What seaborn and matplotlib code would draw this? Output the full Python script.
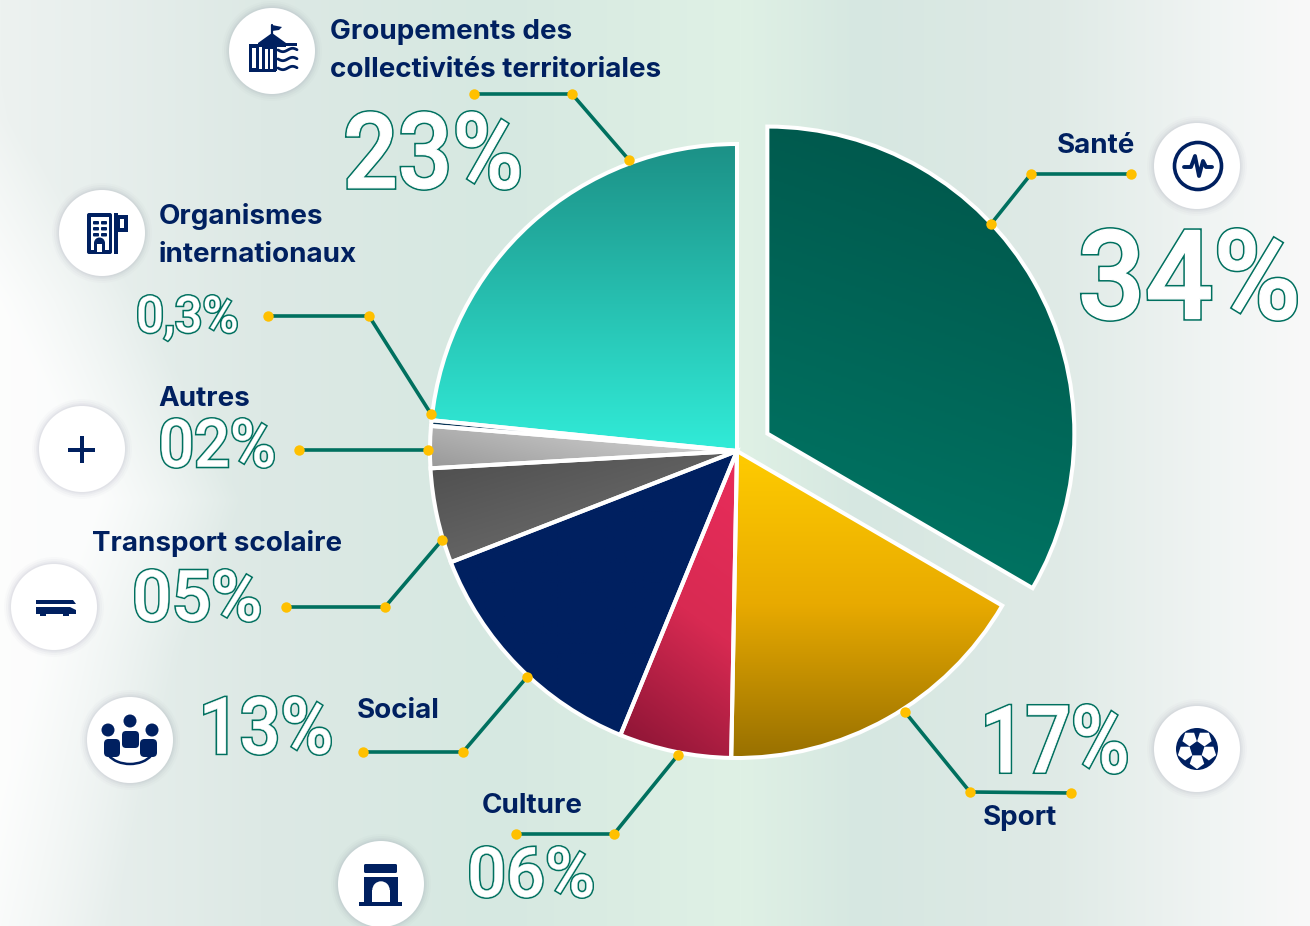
import numpy as np
import matplotlib
matplotlib.use("Agg")
import matplotlib.pyplot as plt
import seaborn as sns
from matplotlib.patches import Circle, Rectangle, FancyBboxPatch, Polygon, Arc
from matplotlib.colors import LinearSegmentedColormap, to_rgb
from matplotlib.transforms import Affine2D
import matplotlib.patheffects as pe

categories = ["Santé", "Sport", "Culture", "Social", "Transport scolaire", "Autres",
              "Organismes internationaux", "Groupements des collectivités territoriales"]
# slice shares
shares = [33.4, 16.9, 5.9, 12.9, 5.0, 2.2, 0.3, 23.4]
pct_labels = ["34%", "17%", "06%", "13%", "05%", "02%", "0,3%", "23%"]

W, H = 1310, 926
NAVY, TEAL, GOLD = "#002060", "#00705f", "#ffc000"
sns.set_theme(style="white")
plt.rcParams["font.family"] = ["Inter", "DejaVu Sans"]

fig = plt.figure(figsize=(W / 100, H / 100), dpi=100)
ax = fig.add_axes([0, 0, 1, 1])
def Y(y): return H - y

# background: horizontal wash with a soft pale band down the left
xs_bg = [0, 90, 260, 500, 740, 860, 1050, 1210, 1310]
cs_bg = ["#edf2f0", "#e8efed", "#dde9e5", "#d6e8e1", "#dff1e5", "#d6e7e1", "#dfeae6", "#f0f4f3", "#f9f9f9"]
gx, gy = np.meshgrid(np.arange(W), np.arange(H))
rgb = np.stack([np.interp(gx, xs_bg, [to_rgb(c)[i] for c in cs_bg]) for i in range(3)], axis=-1)
edge = np.interp(gy, [0, 120, 300, 500, 650, 926], [-90, -60, 70, 170, 110, 40])
mask = np.clip((edge + 70 - gx) / 140, 0, 1)[..., None] * .85
rgb = rgb * (1 - mask) + mask
ax.imshow(rgb, extent=(0, W, 0, H), aspect="auto", zorder=0)

# pie
wedges, _ = ax.pie(shares, explode=[35, 0, 0, 0, 0, 0, 0, 0], center=(737, Y(451)), radius=307,
                   startangle=90, counterclock=False, frame=True,
                   wedgeprops=dict(edgecolor="white", linewidth=2.9, joinstyle="miter"))
grads = [((-.35, -1), ["#005449", "#007866"]), ((0, -1), ["#ffcc00", "#e8aa00", "#987000"]),
         ((-.6, -.8), ["#e92d5b", "#d82a52", "#861333"]), ((0, -1), [NAVY, NAVY]),
         ((.3, -1), ["#4d4d4d", "#747474"]), ((-.25, -1), ["#dcdcdc", "#999999"]),
         ((0, -1), ["#0b3658", "#0b3658"]), ((0, -1), ["#1c9086", "#31ecd8"])]
for w, (d, cols) in zip(wedges, grads):
    bb = w.get_path().transformed(w.get_transform() - ax.transData).get_extents()
    ux, uy = np.meshgrid(np.linspace(0, 1, 256), np.linspace(1, 0, 256))
    v = (ux - .5) * d[0] * bb.width + (uy - .5) * d[1] * bb.height
    v = (v - v.min()) / (v.max() - v.min())
    cm = LinearSegmentedColormap.from_list("g", cols)
    im = ax.imshow(v, cmap=cm, extent=(bb.x0, bb.x1, bb.y0, bb.y1), aspect="auto", zorder=2)
    im.set_clip_path(w)
    w.set_facecolor("none")
    w.set_zorder(3)

# leader lines
leaders = [[(474, 94), (572, 94), (629, 160)], [(1131, 174), (1031, 174), (991, 224)],
           [(268, 316), (369, 316), (431, 414)], [(299, 450), (428, 450)],
           [(286, 607), (385, 607), (442, 540)], [(363, 752), (463, 752), (527, 677)],
           [(516, 834), (614, 834), (678, 755)], [(905, 712), (970, 792), (1071, 793)]]
for pts in leaders:
    xs = [p[0] for p in pts]; ys = [Y(p[1]) for p in pts]
    ax.plot(xs, ys, color=TEAL, lw=2.6, zorder=4, solid_joinstyle="round")
    ax.plot(xs, ys, ls="none", marker="o", ms=7.5, mfc=GOLD, mec="none", zorder=5)

# names
names = [("Groupements des", 330, 39, "left"), ("collectivités territoriales", 330, 77, "left"),
         ("Santé", 1135, 153, "right"), ("Organismes", 159, 224, "left"), ("internationaux", 159, 262, "left"),
         ("Autres", 158, 406, "left"), ("Transport scolaire", 92, 551, "left"), ("Social", 357, 718, "left"),
         ("Culture", 482, 813, "left"), ("Sport", 983, 825, "left")]
for s, x, y, ha in names:
    ax.text(x, Y(y), s, color=NAVY, fontsize=20, fontweight="bold", ha=ha, va="baseline", zorder=6)

class FitOutline(pe.AbstractPathEffect):
    """Outline a text, fatten it and fit it into a pixel box (stands in for the condensed display face)."""
    def __init__(self, x0, x1, y0, y1):
        super().__init__()
        self.box = (x0, x1, H - y1, H - y0)
        self.outer = 1.6 + (y1 - y0) * .016
    def draw_path(self, renderer, gc, tpath, affine, rgbFace=None):
        e = tpath.transformed(affine).get_extents()
        x0, x1, y0, y1 = self.box
        m = self.outer * 100 / 72 / 2
        fit = (Affine2D().translate(-e.x0, -e.y0)
               .scale((x1 - x0 - 2 * m) / e.width, (y1 - y0 - 2 * m) / e.height)
               .translate(x0 + m, y0 + m))
        g = renderer.new_gc(); g.copy_properties(gc)
        g.set_joinstyle("miter")
        g.set_linewidth(self.outer); g.set_foreground(TEAL)
        renderer.draw_path(g, tpath, affine + fit, (1, 1, 1, 1))
        g.set_linewidth(max(self.outer - 2.2, .01)); g.set_foreground("white")
        renderer.draw_path(g, tpath, affine + fit, (1, 1, 1, 1))
        g.restore()

# outlined percentages: x0, x1, y-top, y-bottom in pixels of the picture
pct_box = {"34%": (1080, 1298, 227, 322), "17%": (985, 1128, 703, 775), "06%": (469, 594, 845, 899),
           "13%": (203, 332, 695, 756), "05%": (134, 261, 568, 623), "02%": (160, 275, 417, 469),
           "0,3%": (137, 238, 294, 342), "23%": (345, 521, 110, 191)}
for s in pct_labels:
    x0, x1, y0, y1 = pct_box[s]
    ax.text((x0 + x1) / 2, Y(y1), s, family="Roboto", fontweight="medium", fontsize=(y1 - y0) * .9 * .72,
            color="white", ha="center", va="baseline", zorder=6, clip_on=True,
            path_effects=[FitOutline(x0, x1, y0, y1)])

# icon discs
discs = {"group": (272, 51), "org": (102, 233), "plus": (82, 449), "bus": (54, 607),
         "social": (130, 740), "culture": (381, 884), "sport": (1197, 749), "sante": (1197, 166)}
for cx, cy in discs.values():
    for r, a in [(50, .02), (48, .03), (46, .04), (44.5, .05)]:
        ax.add_patch(Circle((cx, Y(cy)), r, fc="#557", ec="none", alpha=a, zorder=6))
    ax.add_patch(Circle((cx, Y(cy)), 43, fc="white", ec="none", zorder=6.5))

def R(x0, y0, x1, y1, c=NAVY, z=7):
    ax.add_patch(Rectangle((x0, Y(y1)), x1 - x0, y1 - y0, fc=c, ec="none", zorder=z))
def RB(x0, y0, x1, y1, c=NAVY, z=7, pad=3):
    ax.add_patch(FancyBboxPatch((x0 + pad, Y(y1) + pad), x1 - x0 - 2 * pad, y1 - y0 - 2 * pad,
                                boxstyle=f"round,pad={pad}", fc=c, ec="none", zorder=z))
def C(x, y, r, c=NAVY, z=7):
    ax.add_patch(Circle((x, Y(y)), r, fc=c, ec="none", zorder=z))
def P(pts, c=NAVY, z=7):
    ax.add_patch(Polygon([(x, Y(y)) for x, y in pts], fc=c, ec="none", zorder=z))
def L(pts, lw=2, c=NAVY, z=7):
    ax.plot([p[0] for p in pts], [Y(p[1]) for p in pts], color=c, lw=lw, zorder=z,
            solid_capstyle="round", solid_joinstyle="round")
def penta(cx, cy, r, rot=90):
    return [(cx + r * np.cos(np.radians(rot + k * 72)), cy - r * np.sin(np.radians(rot + k * 72))) for k in range(5)]

# plus
R(68, 447.5, 95, 451.5); R(79.5, 436, 83.5, 463)
# sante
ax.add_patch(Circle((1198, Y(166)), 23.5, fc="none", ec=NAVY, lw=2.6, zorder=7))
L([(1184, 167), (1191, 167), (1195, 156), (1199, 176), (1203, 161), (1206, 167), (1212, 167)], 2.8)
# sport
C(1197, 749, 21)
for k in range(5):
    a = 270 + k * 72
    ox, oy = 1197 + 12.5 * np.cos(np.radians(a)), 749 - 12.5 * np.sin(np.radians(a))
    P(penta(ox, oy, 7.6, a), "white", 7.2)
P(penta(1197, 749, 7), NAVY, 7.4)
# culture
RB(364, 864, 397, 873, pad=1.5); R(364, 877, 398, 902); R(359, 902, 402, 906)
R(372, 890, 390, 902, "white", 7.2); C(381, 890, 8.7, "white", 7.2)
# social
C(130, 721, 6.5); C(108, 730, 6.5); C(152, 730, 6.5)
RB(122, 731, 139, 748, pad=4); RB(104, 739, 120, 757, pad=4.5); RB(140, 739, 157, 757, pad=4.5)
ax.add_patch(Arc((130, Y(748)), 48, 32, theta1=200, theta2=340, ec=NAVY, lw=1.8, zorder=7))
# bus
P([(36, 600), (73, 600), (76, 604), (36, 604)]); P([(36, 607), (70, 607), (76, 610), (76, 614), (36, 614)])
R(40, 614, 46, 616); R(63, 614, 69, 616)
# organismes
RB(87, 213, 112, 254, pad=2); R(90.5, 217, 108.5, 250, "white", 7.1)
for yy in [221, 227, 233]:
    for xx in [93, 101]:
        RB(xx, yy, xx + 6, yy + 3.5, z=7.2, pad=1)
R(94, 243, 105, 252, z=7.2); C(99.5, 243, 5.5, z=7.2); R(97, 244, 102, 252, "white", 7.3)
R(114, 213, 117.5, 254); P([(117, 215), (128, 215), (128, 232), (117, 232)]); R(120, 219, 124, 228, "white", 7.2)
# groupements
R(249, 44, 259, 71); R(252, 48, 256, 68, "white", 7.1)
P([(258, 43), (272, 33), (286, 43), (286, 47), (258, 47)])
R(262, 46, 277, 71); [R(x, 49, x + 2.5, 69, "white", 7.1) for x in (265, 270)]
R(249, 69, 276, 72); L([(272, 34), (272, 25)], 1.6); P([(272, 25), (282, 27), (279, 30), (272, 31)])
for yy in [50, 59, 68]:
    t = np.linspace(278, 297, 20)
    L(list(zip(t, yy + 1.7 * np.sin((t - 278) / 3.1))), 2)
R(281, 43, 297, 45.5)

ax.set_xlim(0, W); ax.set_ylim(0, H)
ax.set_aspect("auto")
ax.axis("off")
fig.savefig("out.png", dpi=100)
